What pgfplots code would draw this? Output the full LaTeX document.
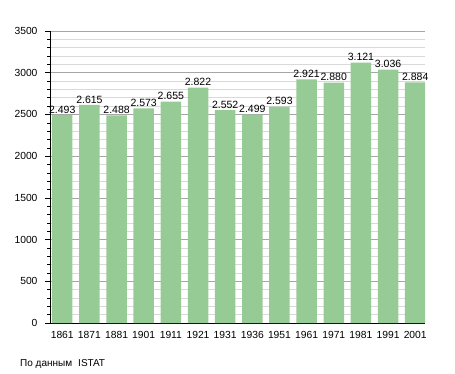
\documentclass[border=0pt]{standalone}
\usepackage{pgfplots}
\pgfplotsset{compat=1.18}
\usepackage{fontspec}
\setmainfont{Liberation Sans}
\definecolor{barg}{RGB}{150,203,150}
\begin{document}
\begin{tikzpicture}
\path[use as bounding box] (0,0) rectangle (455pt,373pt);
\begin{axis}[
  at={(50pt,50pt)}, anchor=south west,
  scale only axis, width=375pt, height=292pt,
  xmin=-0.451, xmax=13.36, ymin=0, ymax=3500,
  axis x line=bottom, axis y line=left,
  axis line style={-, black, line width=0.6pt},
  ybar, bar width=20.5pt,
  xtick={0,...,13},
  xticklabels={1861,1871,1881,1901,1911,1921,1931,1936,1951,1961,1971,1981,1991,2001},
  x tick style={draw=none},
  ytick={0,500,...,3500},
  minor y tick num=4,
  ymajorgrids, yminorgrids,
  major grid style={draw=black!35, line width=0.5pt},
  minor grid style={draw=black!15, line width=0.5pt},
  tick align=outside,
  y tick style={black, line width=0.5pt},
  major tick length=5pt, minor tick length=2.5pt,
  /pgf/number format/assume math mode=true,
  /pgf/number format/1000 sep={},
  ticklabel style={font=\fontsize{10.3}{12}\selectfont},
  yticklabel style={xshift=-4pt},
  nodes near coords={\pgfmathprintnumber[assume math mode=true,1000 sep={.}]{\pgfplotspointmeta}},
  every node near coord/.append style={font=\fontsize{10.5}{12}\selectfont, black, inner sep=1.5pt},
]
\addplot[fill=barg, draw=none] coordinates {
(0,2493) (1,2615) (2,2488) (3,2573) (4,2655) (5,2822) (6,2552)
(7,2499) (8,2593) (9,2921) (10,2880) (11,3121) (12,3036) (13,2884)
};
\end{axis}
\node[anchor=base west, font=\fontsize{10}{12}\selectfont, inner sep=0pt] at (20pt,7pt) {По данным\hspace{0.6em}ISTAT};
\end{tikzpicture}
\end{document}
